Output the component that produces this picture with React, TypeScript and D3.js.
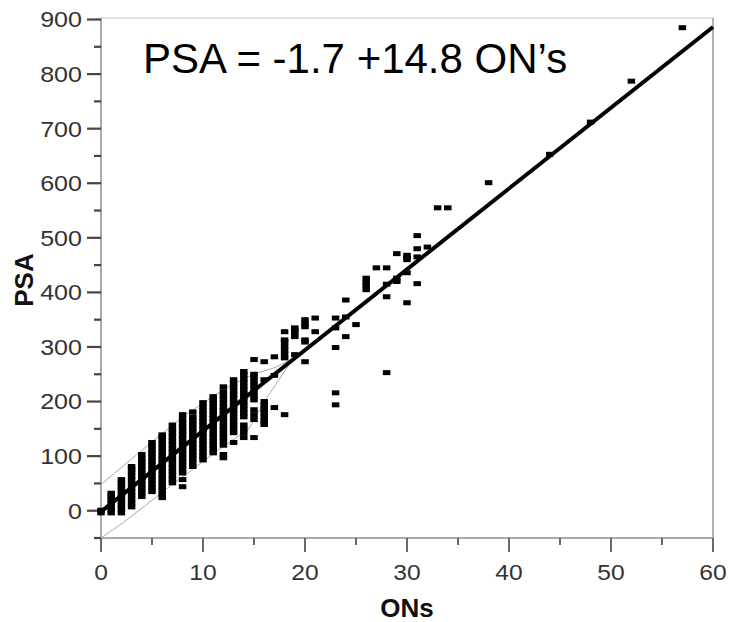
import React from "react";
import * as d3 from "d3";

// ---- data ----
const columnONs = [0, 1, 2, 3, 4, 5, 6, 7, 8, 9, 10, 11, 12, 13, 14, 15, 16, 17, 18, 19, 20, 21, 23, 24, 25, 26, 27, 28, 29, 30, 31, 32, 33, 34, 38, 44, 48, 52, 57];
const columnPSA: number[][] = [
  [-4, 1],
  [-4, 2, 8, 14, 20, 26, 32],
  [-4, 3, 10, 17, 24, 31, 38, 45, 51, 57],
  [7, 14, 21, 28, 35, 42, 49, 56, 63, 70, 76, 81],
  [26, 33, 40, 47, 54, 61, 68, 75, 82, 89, 96, 103],
  [35, 42, 49, 56, 63, 70, 77, 84, 91, 98, 105, 112, 119, 125],
  [24, 31, 38, 45, 52, 59, 66, 73, 80, 87, 94, 101, 108, 115, 122, 129, 135, 139],
  [51, 58, 65, 72, 79, 86, 93, 100, 107, 114, 121, 128, 135, 142, 149, 157],
  [44, 57, 69, 76, 83, 90, 97, 104, 111, 118, 125, 132, 139, 146, 153, 160, 167, 176],
  [81, 88, 95, 102, 109, 116, 123, 130, 137, 144, 151, 158, 165, 172, 181],
  [93, 100, 107, 114, 121, 128, 135, 142, 149, 156, 163, 170, 177, 184, 191, 198],
  [106, 113, 120, 127, 134, 141, 148, 155, 162, 169, 176, 183, 190, 197, 203, 209],
  [97, 103, 120, 127, 134, 141, 148, 155, 162, 169, 176, 183, 190, 197, 204, 211, 218, 227],
  [125, 143, 150, 157, 164, 171, 178, 185, 192, 199, 206, 213, 220, 227, 233, 240],
  [134, 143, 150, 157, 172, 179, 186, 193, 200, 207, 214, 221, 228, 235, 242, 249, 255],
  [134, 167, 176, 185, 203, 210, 217, 224, 231, 238, 245, 250, 277],
  [158, 165, 172, 179, 186, 193, 200, 240, 273],
  [189, 248, 282],
  [176, 280, 287, 294, 301, 309, 313, 328],
  [286, 319, 326, 331, 335],
  [273, 309, 313, 337, 343, 350],
  [328, 353],
  [194, 216, 299, 335, 353],
  [319, 355, 386],
  [341],
  [405, 412, 419, 426],
  [445],
  [253, 392, 415, 445],
  [420, 426, 471],
  [381, 436, 460, 464, 468],
  [416, 465, 480, 504],
  [483],
  [555],
  [555],
  [601],
  [653],
  [712],
  [787],
  [885],
];

// fit: PSA = -1.7 + 14.8 ON's
const fitIntercept = -1.7;
const fitSlope = 14.8;

// density contour outline (upper then lower edge)
const contourUpper: [number, number][] = [[0, 48], [3, 95], [8, 172], [12, 222], [15, 250], [17, 262], [18.6, 276]];
const contourLower: [number, number][] = [[0, -50], [2.3, -20], [7, 48], [12, 118], [14.5, 150], [16, 200], [18.6, 272]];

const xMajor = [0, 10, 20, 30, 40, 50, 60];
const xMinor = [5, 15, 25, 35, 45, 55];
const yMajor = [0, 100, 200, 300, 400, 500, 600, 700, 800, 900];
const yMinor = [-50, 50, 150, 250, 350, 450, 550, 650, 750, 850];

const W = 744, H = 622;
const L = 101, R = 713, T = 19.5, B = 538;

export default function App() {
  const x = d3.scaleLinear().domain([0, 60]).range([L, R]);
  const y = d3.scaleLinear().domain([-50, 900]).range([B, T]);

  const points: { ons: number; psa: number }[] = [];
  columnONs.forEach((o, i) => columnPSA[i].forEach((p) => points.push({ ons: o, psa: p })));

  const fitLine = d3.line<number>().x((d) => x(d)).y((d) => y(fitIntercept + fitSlope * d));
  const contour = d3.line<[number, number]>().x((d) => x(d[0])).y((d) => y(d[1]));
  const contourPts = [...contourUpper, ...contourLower.slice().reverse()];
  contourPts.push(contourUpper[0]);

  const font = "Liberation Sans, Arial, sans-serif";
  const tickColor = "#444";
  const labelColor = "#333";

  return (
    <svg width={W} height={H} style={{ position: "absolute", left: 0, top: 0, background: "#fff" }}>
      {/* frame */}
      <line x1={L} x2={R} y1={18} y2={18} stroke="#d8d8d8" strokeWidth={1.5} />
      <line x1={R} x2={R} y1={18} y2={B} stroke="#999" strokeWidth={1.5} />
      <line x1={L} x2={L} y1={18} y2={B} stroke="#aaa" strokeWidth={2} />
      <line x1={L} x2={R} y1={B} y2={B} stroke="#aaa" strokeWidth={2} />

      {/* y ticks */}
      {yMajor.map((v) => (
        <g key={"ym" + v}>
          <line x1={L - 14} x2={L} y1={y(v)} y2={y(v)} stroke={tickColor} strokeWidth={2.2} />
          <g transform={`translate(82,${y(v)}) scale(1.14,1)`}>
            <text x={0} y={0} dy="0.36em" textAnchor="end" fontFamily={font} fontSize={22} fill={labelColor}>{v}</text>
          </g>
        </g>
      ))}
      {yMinor.map((v) => (
        <line key={"yn" + v} x1={L - 7} x2={L} y1={y(v)} y2={y(v)} stroke={tickColor} strokeWidth={2.2} />
      ))}

      {/* x ticks */}
      {xMajor.map((v) => (
        <g key={"xm" + v}>
          <line x1={x(v)} x2={x(v)} y1={B} y2={B + 14} stroke={tickColor} strokeWidth={1.6} />
          <g transform={`translate(${x(v)},580) scale(1.12,1)`}>
            <text x={0} y={0} textAnchor="middle" fontFamily={font} fontSize={22} fill={labelColor}>{v}</text>
          </g>
        </g>
      ))}
      {xMinor.map((v) => (
        <line key={"xn" + v} x1={x(v)} x2={x(v)} y1={B} y2={B + 7} stroke={tickColor} strokeWidth={1.6} />
      ))}

      {/* contour */}
      <path d={contour(contourPts) || ""} fill="none" stroke="#aaa" strokeWidth={1} />

      {/* points */}
      {points.map((p, i) => (
        <rect key={i} x={x(p.ons) - 3.75} y={y(p.psa) - 2.5} width={7.5} height={5} fill="#000" />
      ))}

      {/* fit line */}
      <path d={fitLine([0, 60]) || ""} stroke="#000" strokeWidth={4} fill="none" />

      {/* equation */}
      <text x={143} y={72.7} fontFamily={font} fontSize={42} fill="#000">PSA = -1.7 +14.8 ON’s</text>

      {/* axis titles */}
      <text x={407} y={617} textAnchor="middle" fontFamily={font} fontSize={26} fontWeight="bold" fill="#111">ONs</text>
      <text transform="translate(33,280) rotate(-90)" textAnchor="middle" fontFamily={font} fontSize={26} fontWeight="bold" fill="#111">PSA</text>
    </svg>
  );
}
